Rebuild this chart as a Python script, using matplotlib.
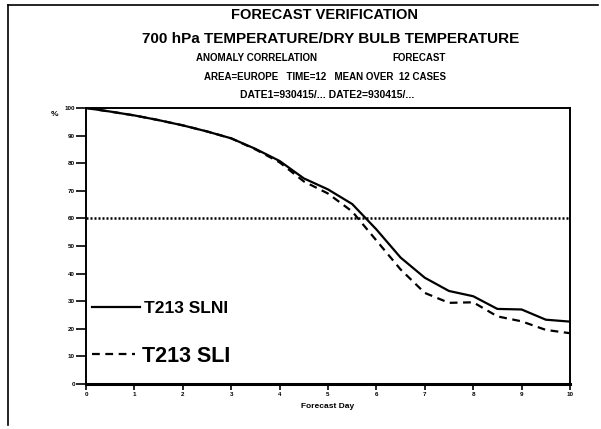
import matplotlib
matplotlib.use('Agg')
from matplotlib import pyplot as plt
from matplotlib.lines import Line2D

plt.rcParams['font.family'] = ['Liberation Sans', 'DejaVu Sans']
plt.rcParams['font.weight'] = 'bold'

# forecast day (12 hourly steps) and anomaly correlation in %
days = [0, 0.5, 1, 1.5, 2, 2.5, 3, 3.5, 4, 4.5, 5, 5.5, 6, 6.5, 7, 7.5, 8, 8.5, 9, 9.5, 10]
slni = [100, 98.7, 97.3, 95.6, 93.7, 91.5, 89, 85.2, 80.8, 74.5, 70.5, 65.2, 56,
        45.8, 38.5, 33.7, 31.8, 27.2, 27, 23.3, 22.6]
sli = [100, 98.7, 97.3, 95.6, 93.7, 91.5, 89, 85, 80.3, 73.4, 69, 62.5, 52,
       41.5, 33, 29.4, 29.6, 24.5, 22.7, 19.6, 18.4]
threshold = 60

x_ticks = list(range(0, 11))
y_ticks = list(range(0, 101, 10))

title_lines = ['FORECAST VERIFICATION',
               '700 hPa TEMPERATURE/DRY BULB TEMPERATURE']
area_line = 'AREA=EUROPE   TIME=12   MEAN OVER  12 CASES'
date_line = 'DATE1=930415/... DATE2=930415/...'

fig = plt.figure(figsize=(6.01, 4.29), dpi=100)
ax = fig.add_axes([0.1431, 0.1049, 0.8053, 0.6434])

solid, = ax.plot(days, slni, color='black', lw=1.6, label='T213 SLNI')
dashed, = ax.plot(days, sli, color='black', lw=1.6, ls=(0, (3.5, 2.5)),
                  label='T213 SLI')
ax.axhline(threshold, color='black', lw=1.8, ls=(0, (0.8, 0.8)))

ax.set_xlim(0, 10)
ax.set_ylim(0, 100)
ax.set_xticks(x_ticks)
ax.set_yticks(y_ticks)
ax.tick_params(axis='y', direction='out', length=7, width=1.2, pad=1,
               labelsize=4.5)
ax.tick_params(axis='x', direction='out', length=4, width=1.2, pad=2,
               labelsize=4.5)
for lab in ax.get_xticklabels() + ax.get_yticklabels():
    lab.set_fontweight('bold')
for side in ['left', 'right', 'top']:
    ax.spines[side].set_linewidth(1.4)
ax.spines['bottom'].set_linewidth(2.2)

ax.set_xlabel('Forecast Day', fontsize=6, fontweight='bold', labelpad=4)
ax.text(-0.065, 0.975, '%', transform=ax.transAxes, fontsize=6,
        fontweight='bold', ha='center', va='center')

# two separate legend entries, the second in a larger type
leg1 = ax.legend(handles=[solid], loc='center left', bbox_to_anchor=(0.012, 0.275),
                 frameon=False, fontsize=12.5, borderpad=0, borderaxespad=0,
                 handlelength=2.8, handletextpad=0.2)
ax.add_artist(leg1)
ax.legend(handles=[dashed], loc='center left', bbox_to_anchor=(0.012, 0.10),
          frameon=False, fontsize=15.5, borderpad=0, borderaxespad=0,
          handlelength=2.0, handletextpad=0.35)

# header block
fig.text(0.54, 0.966, title_lines[0], ha='center', va='center', fontsize=10.5,
         fontweight='bold')
fig.text(0.55, 0.91, title_lines[1], ha='center', va='center', fontsize=11,
         fontweight='bold')
fig.text(0.427, 0.864, 'ANOMALY CORRELATION', ha='center', va='center',
         fontsize=7, fontweight='bold')
fig.text(0.697, 0.864, 'FORECAST', ha='center', va='center', fontsize=7,
         fontweight='bold')
fig.text(0.54, 0.82, area_line, ha='center', va='center', fontsize=7,
         fontweight='bold')
fig.text(0.545, 0.778, date_line, ha='center', va='center', fontsize=7.5,
         fontweight='bold')

# page frame on the left and top
fig.add_artist(Line2D([0.013, 0.013], [0.01, 0.988], color='black', lw=1.2))
fig.add_artist(Line2D([0.013, 0.995], [0.988, 0.988], color='black', lw=1.2))

fig.savefig('out.png', dpi=100)
